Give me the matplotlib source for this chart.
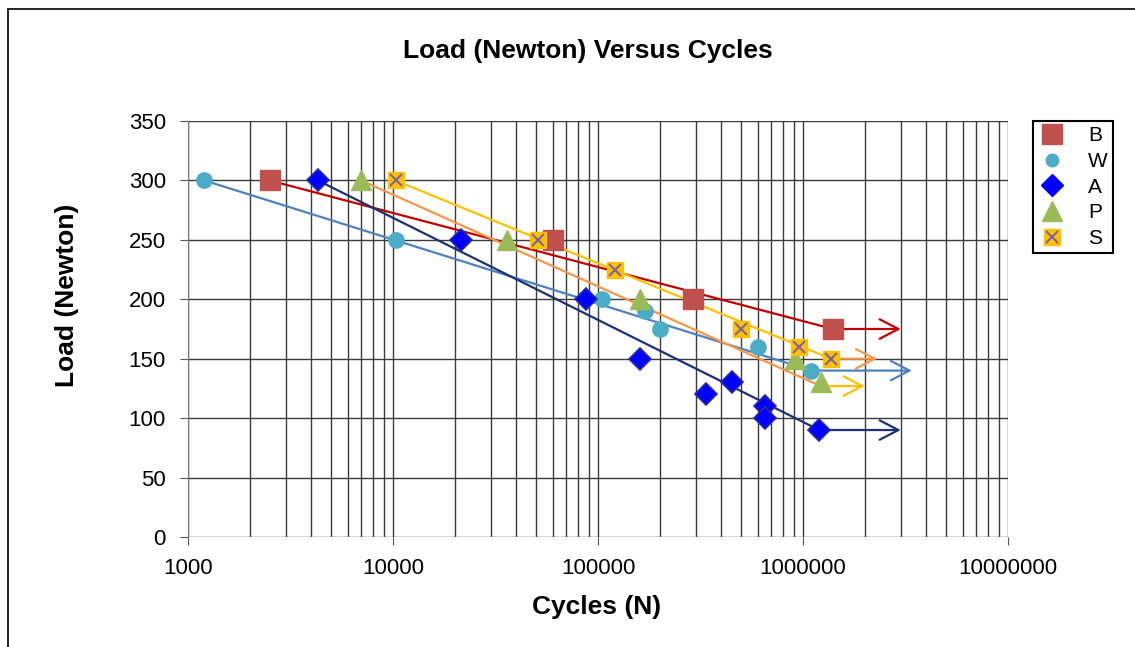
import numpy as np
import matplotlib.pyplot as plt
from matplotlib.lines import Line2D
from matplotlib.patches import Rectangle

plt.rcParams['font.family'] = ['Liberation Sans', 'DejaVu Sans']

# data
B_x = [2500, 60000, 290000, 1400000]
B_y = [300, 250, 200, 175]
W_x = [1200, 10300, 105000, 170000, 200000, 600000, 1100000]
W_y = [300, 250, 200, 190, 175, 160, 140]
A_x = [4300, 21500, 87000, 160000, 335000, 450000, 650000, 650000, 1200000]
A_y = [300, 250, 200, 150, 120, 130, 110, 100, 90]
P_x = [7000, 36000, 160000, 910000, 1220000]
P_y = [300, 250, 200, 150, 130]
S_x = [10300, 51000, 121000, 500000, 960000, 1370000]
S_y = [300, 250, 225, 175, 160, 150]

# straight trend lines (first point -> end point) and run-out arrows
trend_end_y = {'B': 175, 'W': 140, 'A': 90, 'P': 127, 'S': 150}
arrow_end_x = {'B': 3.0e6, 'W': 3.4e6, 'A': 3.0e6, 'P': 2.0e6, 'S': 2.3e6}

fig = plt.figure(figsize=(11.35, 6.47), dpi=100)
ax = fig.add_axes([188/1135, 1-537/647, (1008-188)/1135, (537-121)/647])

ax.set_xscale('log')
ax.set_xlim(1000, 1e7)
ax.set_ylim(0, 350)
ax.set_yticks(np.arange(0, 351, 50))
ax.set_xticks([1e3, 1e4, 1e5, 1e6, 1e7])
ax.set_xticklabels(['1000', '10000', '100000', '1000000', '10000000'])
ax.xaxis.set_minor_locator(plt.matplotlib.ticker.LogLocator(base=10, subs=np.arange(2, 10)))
ax.xaxis.set_minor_formatter(plt.NullFormatter())
ax.grid(True, which='both', color='#3a3a3a', lw=1)
ax.set_axisbelow(True)
for s in ['top', 'right', 'bottom']:
    ax.spines[s].set_visible(False)
ax.spines['left'].set_color('#777777')
ax.tick_params(axis='both', which='major', labelsize=16, length=6, color='#555555')
ax.tick_params(axis='y', pad=10)
ax.tick_params(axis='x', pad=9)
ax.tick_params(axis='x', which='minor', length=0)

series = [
    ('B', B_x, B_y, '#C00000'),
    ('W', W_x, W_y, '#4F81BD'),
    ('A', A_x, A_y, '#1F3070'),
    ('P', P_x, P_y, '#F79646'),
    ('S', S_x, S_y, '#FFC000'),
]
# arrow colours are swapped between P and S in the original
arrow_col = {'B': '#C00000', 'W': '#4F81BD', 'A': '#1F3070', 'P': '#FFC000', 'S': '#F79646'}

for name, xs, ys, lc in series:
    x0, y0 = xs[0], ys[0]
    x1, y1 = xs[-1], trend_end_y[name]
    ax.plot([x0, x1], [y0, y1], color=lc, lw=1.6, zorder=2)
    ax.annotate('', xy=(arrow_end_x[name], y1), xytext=(x1, y1),
                arrowprops=dict(arrowstyle='->,head_length=1.35,head_width=0.7',
                                color=arrow_col[name], lw=1.6, shrinkA=0, shrinkB=0),
                zorder=2)

ax.plot(B_x, B_y, 's', ms=14, color='#C0504D', mec='#C0504D', zorder=3, ls='none')
ax.plot(W_x, W_y, 'o', ms=11, color='#4BACC6', mec='#4BACC6', zorder=3, ls='none')
ax.plot(A_x, A_y, 'D', ms=11, color='#0000FF', mec='#2B2B9B', mew=1.2, zorder=3, ls='none')
ax.plot(P_x, P_y, '^', ms=14, color='#9BBB59', mec='#9BBB59', zorder=3, ls='none')
ax.plot(S_x, S_y, 's', ms=11, color='#FFC000', mec='#FFC000', zorder=3, ls='none')
ax.plot(S_x, S_y, 'x', ms=9, color='#8064A2', mew=1.5, zorder=4, ls='none')

fig.text(588/1135, 1-51/647, 'Load (Newton) Versus Cycles', fontsize=19,
         fontweight='bold', ha='center', va='center')
ax.set_xlabel('Cycles (N)', fontsize=19, fontweight='bold')
ax.xaxis.set_label_coords((597-188)/820, -(607-537)/416)
ax.xaxis.label.set_va('center')
ax.set_ylabel('Load (Newton)', fontsize=19, fontweight='bold')
ax.yaxis.set_label_coords((67-188)/820, (537-295)/416)
ax.yaxis.label.set_va('center')

handles = [
    Line2D([], [], marker='s', ms=14, color='#C0504D', ls='none'),
    Line2D([], [], marker='o', ms=9, color='#4BACC6', ls='none'),
    Line2D([], [], marker='D', ms=11, color='#0000FF', ls='none'),
    Line2D([], [], marker='^', ms=14, color='#9BBB59', ls='none'),
    (Line2D([], [], marker='s', ms=11, color='#FFC000', ls='none'),
     Line2D([], [], marker='x', ms=9, color='#8064A2', mew=1.5, ls='none')),
]
leg = fig.legend(handles, ['B', 'W', 'A', 'P', 'S'], loc='upper left',
                 bbox_to_anchor=(1033/1135, 1-121/647), borderaxespad=0, fontsize=15,
                 fancybox=False, edgecolor='black', framealpha=1,
                 handletextpad=1.1, labelspacing=0.32, borderpad=0.25,
                 handlelength=1.3)
leg.get_frame().set_linewidth(1.5)

# outer chart border (cropped at right and bottom)
fig.patches.append(Rectangle((8/1135, -0.1), 1.2, 1.1 - 9/647, transform=fig.transFigure,
                             fill=False, edgecolor='black', lw=1.2))

fig.savefig('out.png', dpi=100)
plt.close(fig)
